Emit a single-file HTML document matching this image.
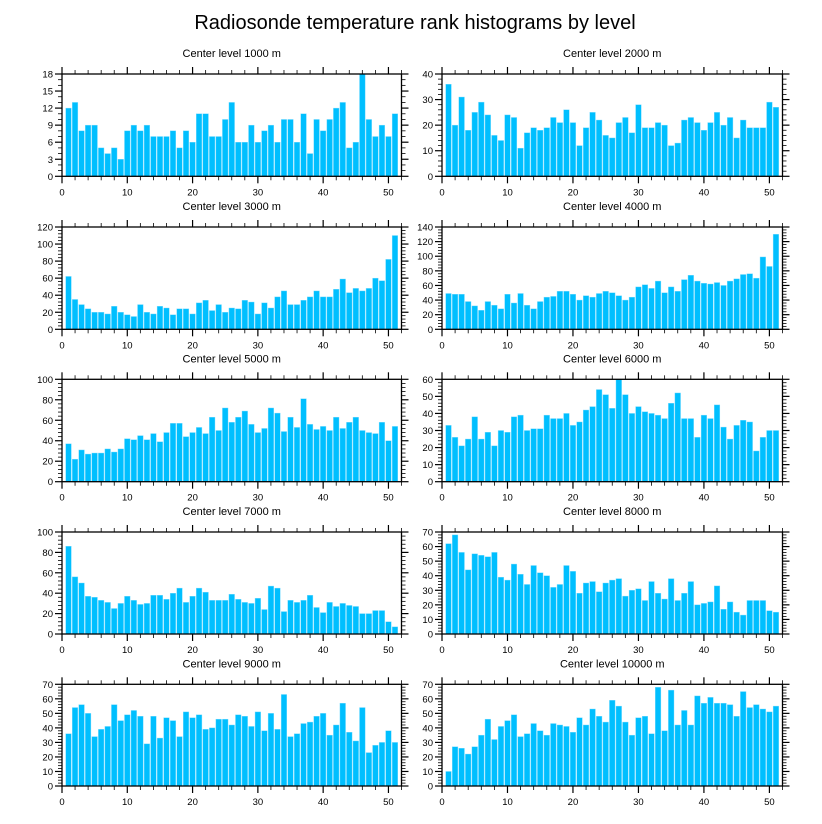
<!DOCTYPE html>
<html><head><meta charset="utf-8">
<style>
body{margin:0;background:#fff;}
svg{display:block;font-family:"Liberation Sans",Arial,sans-serif;}
</style></head>
<body>
<svg id="c" width="822" height="824" viewBox="0 0 822 824" xmlns="http://www.w3.org/2000/svg">
<text x="415" y="29" text-anchor="middle" font-size="20">Radiosonde temperature rank histograms by level</text>
</svg>
<script>
const levels = ["1000","2000","3000","4000","5000","6000","7000","8000","9000","10000"];
const yMaxes = [18,40,120,140,100,60,100,70,70,70];
const ySteps = [3,10,20,20,20,10,20,10,10,10];
const xTicks = [0,10,20,30,40,50];
const v1000 = [12,13,8,9,9,5,4,5,3,8,9,8,9,7,7,7,8,5,8,6,11,11,7,7,10,13,6,6,9,6,8,9,6,10,10,6,11,4,10,8,10,12,13,5,6,18,10,7,9,7,11];
const v2000 = [36,20,31,18,25,29,24,16,14,24,23,11,17,19,18,19,23,21,26,21,12,19,25,22,16,15,21,23,17,28,19,19,21,20,12,13,22,23,21,18,21,25,20,23,15,22,19,19,19,29,27];
const v3000 = [62,35,29,24,20,20,18,27,20,17,15,29,20,18,27,25,17,24,24,18,31,34,22,29,20,25,24,34,32,18,31,25,38,45,29,29,34,38,45,38,38,47,59,43,48,45,48,60,57,82,110];
const v4000 = [49,48,48,38,32,26,38,33,28,48,36,49,33,28,38,44,45,52,52,48,40,46,44,49,52,50,46,40,44,58,61,56,66,50,58,52,68,74,66,63,62,64,60,66,69,75,76,70,99,86,130];
const v5000 = [37,22,31,27,28,28,32,29,32,42,41,45,41,47,39,48,57,57,44,48,53,47,63,50,72,58,63,69,56,48,52,72,67,49,63,53,81,56,51,54,50,63,52,58,63,50,48,47,58,40,54];
const v6000 = [33,26,21,25,38,25,29,21,30,29,38,39,30,31,31,39,37,37,40,33,35,42,44,54,51,43,60,51,40,44,41,40,39,37,46,52,37,37,26,39,37,45,32,25,33,36,35,18,26,30,30];
const v7000 = [86,56,50,37,36,33,31,25,30,37,33,29,30,38,38,34,40,45,31,37,45,41,33,33,33,39,34,31,30,35,24,47,45,22,33,31,33,38,26,21,31,27,30,28,27,20,20,23,23,12,7];
const v8000 = [62,68,56,44,55,54,53,56,39,37,48,41,34,47,42,40,32,34,47,43,28,35,36,29,35,37,38,26,30,31,23,36,28,24,38,23,28,36,20,21,22,33,17,22,15,13,23,23,23,16,15];
const v9000 = [36,54,56,50,34,39,41,56,45,49,52,48,29,48,33,47,45,34,51,47,49,39,40,46,46,42,49,48,41,51,38,50,39,63,34,36,43,44,48,50,35,42,57,37,31,54,23,28,30,38,30];
const v10000 = [10,27,26,22,27,35,46,32,41,45,49,34,36,43,38,35,43,42,41,37,47,42,53,48,44,59,55,44,35,47,48,36,68,38,66,42,52,42,62,57,61,57,57,56,48,65,54,56,53,51,55];
const series = [v1000,v2000,v3000,v4000,v5000,v6000,v7000,v8000,v9000,v10000];

const NS="http://www.w3.org/2000/svg";
const svg=document.getElementById('c');
function mk(tag,attrs,parent){const e=document.createElementNS(NS,tag);for(const k in attrs)e.setAttribute(k,attrs[k]);(parent||svg).appendChild(e);return e;}
const colL=[62,442], colR=[401.5,782.5];
const rowTop=[74,227,379.3,532,684.3], rowBot=[176.3,329.3,481.7,634,786];
const XMAX=52;
series.forEach((vals,p)=>{
  const col=p%2,row=Math.floor(p/2);
  const L=colL[col],R=colR[col],T=rowTop[row],B=rowBot[row];
  const g=mk('g',{});
  
  
  const xs=x=>L+(R-L)*x/XMAX;
  const ys=y=>B-(B-T)*y/yMaxes[p];
  const t=mk('text',{x:(L+R)/2,y:T-17,'text-anchor':'middle','font-size':11},g);
  t.textContent='Center level '+levels[p]+' m';
  
  
  const bw=0.86*(R-L)/XMAX;
  vals.forEach((v,i)=>{
    const cx=xs(i+1);
    const r=mk('rect',{x:cx-bw/2,y:ys(v),width:bw,height:B-ys(v),fill:'#00bfff',stroke:'#7fdcff','stroke-width':0.4},g);
    
    
  });
  const box=mk('rect',{x:L,y:T,width:R-L,height:B-T,fill:'none',stroke:'#000','stroke-width':1.3},g);
  
  
  // x ticks
  for(let x=0;x<=XMAX;x+=2){
    const X=xs(x),maj=x%10===0,len=maj?7:4;
    mk('line',{x1:X,x2:X,y1:B,y2:B+len,stroke:'#000','stroke-width':maj?1.2:0.8},g);
    mk('line',{x1:X,x2:X,y1:T,y2:T-len,stroke:'#000','stroke-width':maj?1.2:0.8},g);
  }
  xTicks.forEach(x=>{
    const lt=mk('text',{x:xs(x),y:B+19,'text-anchor':'middle','font-size':9.5},g);
    lt.textContent=x;
    
    
  });
  // y ticks
  const st=ySteps[p],minor=st===3?1:st/5;
  for(let y=0;y<=yMaxes[p]+1e-9;y+=minor){
    const Y=ys(y),maj=Math.abs(y/st-Math.round(y/st))<1e-6,len=maj?7:4;
    mk('line',{x1:L,x2:L-len,y1:Y,y2:Y,stroke:'#000','stroke-width':maj?1.2:0.8},g);
    mk('line',{x1:R,x2:R+len,y1:Y,y2:Y,stroke:'#000','stroke-width':maj?1.2:0.8},g);
    if(maj){
      const yt=mk('text',{x:L-9,y:Y+3.5,'text-anchor':'end','font-size':9.5},g);
      yt.textContent=Math.round(y);
      
      
    }
  }
});
</script>
</body></html>
